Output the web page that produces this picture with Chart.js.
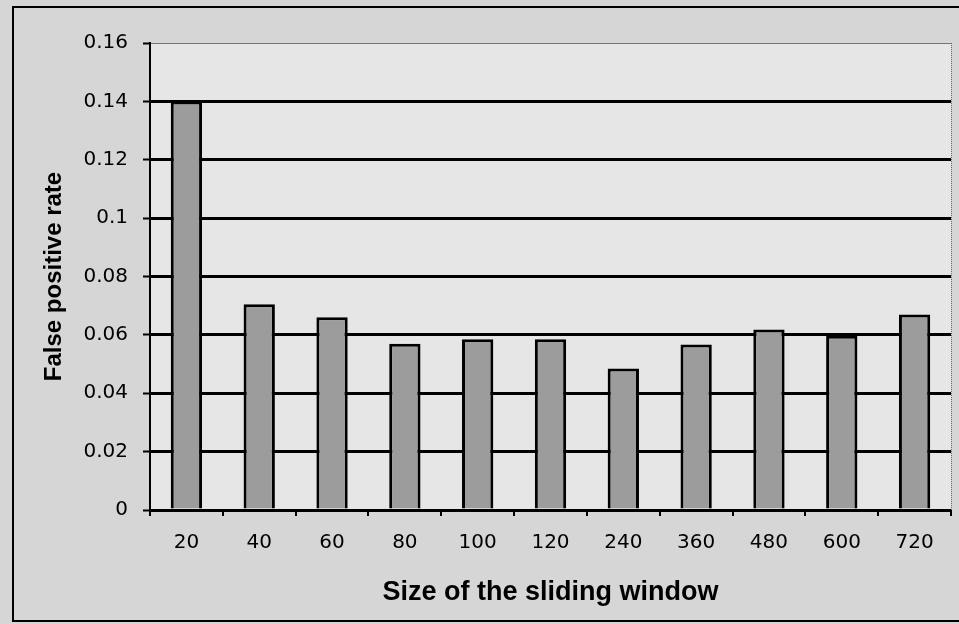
<!DOCTYPE html>
<html>
<head>
<meta charset="utf-8">
<script src="https://cdn.jsdelivr.net/npm/chart.js@4"></script>
<style>
  html, body { margin: 0; padding: 0; background: #d8d8d8; }
  #wrap { width: 959px; height: 624px; position: relative; }
</style>
</head>
<body>
<div id="wrap"><canvas id="c" width="959" height="624"></canvas></div>
<script>
const windowSizes = ['20', '40', '60', '80', '100', '120', '240', '360', '480', '600', '720']
const falsePositive = [0.14, 0.0705, 0.066, 0.057, 0.0585, 0.0585, 0.0485, 0.0567, 0.0618, 0.0597, 0.067]
const yTicks = [0, 0.02, 0.04, 0.06, 0.08, 0.1, 0.12, 0.14, 0.16]

// frame + lighter plot area behind everything
const framePlugin = {
    id: 'frame',
    beforeDraw(chart) {
        const { ctx, chartArea } = chart
        ctx.save()
        ctx.fillStyle = '#d6d6d6'
        ctx.fillRect(0, 0, chart.width, chart.height)
        ctx.fillStyle = '#e6e6e6'
        ctx.fillRect(chartArea.left, chartArea.top, chartArea.right - chartArea.left, chartArea.bottom - chartArea.top)
        ctx.strokeStyle = '#000'
        ctx.lineWidth = 2
        ctx.strokeRect(13, 7, chart.width + 10, 614)
        ctx.restore()
    },
    afterDraw(chart) {
        // dotted right edge of the plot
        const { ctx, chartArea } = chart
        ctx.save()
        ctx.strokeStyle = '#666'
        ctx.lineWidth = 1
        ctx.setLineDash([1, 1])
        ctx.beginPath()
        ctx.moveTo(chartArea.right + 0.5, chartArea.top)
        ctx.lineTo(chartArea.right + 0.5, chartArea.bottom)
        ctx.stroke()
        ctx.restore()
    }
}

new Chart(document.getElementById('c'), {
    type: 'bar',
    data: {
        labels: windowSizes,
        datasets: [
            {
                label: 'False positive rate',
                data: falsePositive,
                backgroundColor: '#9c9c9c',
                borderColor: '#000',
                borderWidth: 3,
                borderSkipped: 'bottom',
                categoryPercentage: 1,
                barPercentage: 0.43
            }
        ]
    },
    options: {
        responsive: false,
        animation: false,
        layout: {
            padding: { left: 40, top: 43, right: 8, bottom: 15 }
        },
        plugins: {
            legend: { display: false },
            tooltip: { enabled: false }
        },
        scales: {
            x: {
                afterFit(scale) { scale.height = 99 },
                grid: {
                    offset: true,
                    drawOnChartArea: false,
                    color: '#000',
                    lineWidth: 2,
                    tickLength: 6
                },
                border: { color: '#000', width: 3 },
                ticks: {
                    color: '#000',
                    padding: 15,
                    maxRotation: 0,
                    font: { family: 'DejaVu Sans', size: 20 }
                },
                title: {
                    display: true,
                    text: 'Size of the sliding window',
                    color: '#000',
                    padding: 0,
                    font: { family: 'Liberation Sans', size: 27, weight: 'bold' }
                }
            },
            y: {
                min: 0,
                max: 0.16,
                afterFit(scale) { scale.width = 110 },
                afterBuildTicks(scale) {
                    scale.ticks = yTicks.map(v => ({ value: v }))
                },
                grid: {
                    color: ctx => ctx.tick && ctx.tick.value === 0.16 ? '#777' : '#000',
                    lineWidth: ctx => ctx.tick && ctx.tick.value === 0.16 ? 1 : 3,
                    tickColor: '#000',
                    tickWidth: 2,
                    tickLength: 7
                },
                border: { color: '#000', width: 2 },
                ticks: {
                    color: '#000',
                    padding: 15,
                    font: { family: 'DejaVu Sans', size: 20 },
                    callback: v => String(Math.round(v * 100) / 100)
                },
                title: {
                    display: true,
                    text: 'False positive rate',
                    color: '#000',
                    padding: 0,
                    font: { family: 'Liberation Sans', size: 24, weight: 'bold' }
                }
            }
        }
    },
    plugins: [framePlugin]
})
</script>
</body>
</html>
